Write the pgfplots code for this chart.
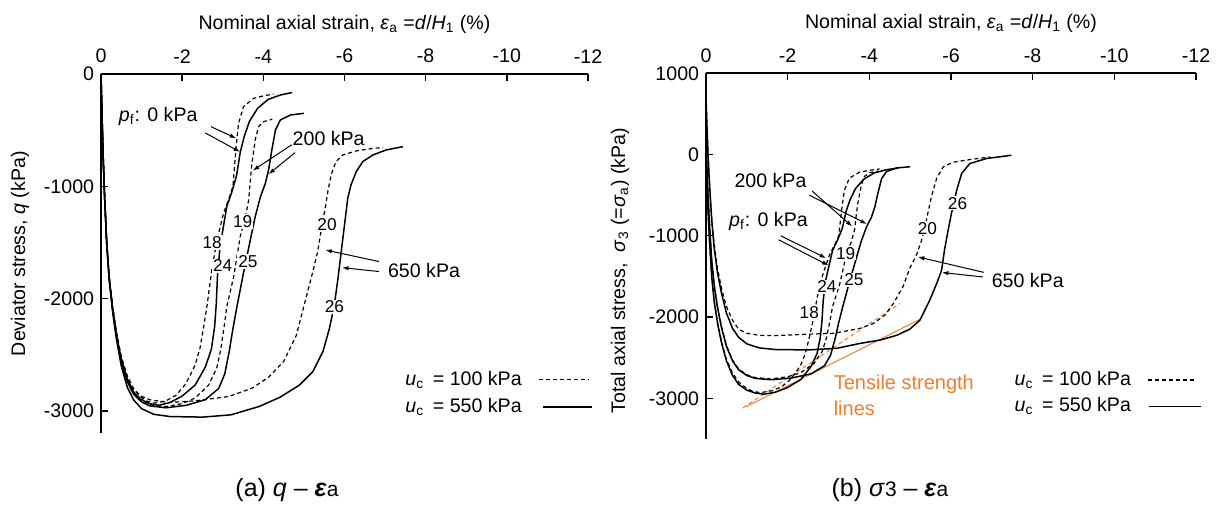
\documentclass[border=0pt]{standalone}
\usepackage{fontspec}
\setmainfont{Liberation Sans}
\usepackage{pgfplots}
\pgfplotsset{compat=1.18}
\usetikzlibrary{arrows.meta}
\definecolor{tsorange}{RGB}{237,125,49}

\tikzset{
  dsh/.style={dash pattern=on 2pt off 1.5pt, line width=0.6pt},
  clab/.style={fill=white, inner sep=0.5pt, font=\fontsize{8.6}{9}\selectfont},
  arr/.style={-{Latex[length=3.2pt,width=2.2pt]}, line width=0.5pt, black},
}
\pgfplotsset{
  myaxis/.style={
    scale only axis,
    x dir=reverse,
    xmin=-12, xmax=0,
    axis x line=top, axis y line=left,
    axis line style={-, line width=0.8pt},
    tick align=inside,
    major tick length=3.5pt,
    tick style={line width=0.7pt, black},
    xtick={0,-2,-4,-6,-8,-10,-12},
    /pgf/number format/assume math mode=true,
    /pgf/number format/1000 sep={},
    scaled ticks=false,
    clip=false,
    no markers,
    cycle list={{black,solid}},
    xlabel style={at={(axis description cs:0.5,1)}, anchor=center, yshift=25pt},
    x tick label style={yshift=2pt},
    every axis plot/.append style={black, line width=0.75pt, line join=round},
  },
}

\begin{document}
\fontsize{9.8}{11.5}\selectfont
\begin{tikzpicture}
\path (0,0) rectangle (610pt,253pt);

% ---------------- (a) ----------------
\begin{axis}[myaxis,
  at={(50.5pt,36.3pt)}, anchor=south west,
  width=243.5pt, height=179.7pt,
  ymin=-3200, ymax=0,
  ytick={0,-1000,-2000,-3000},
  xlabel={Nominal axial strain, \textit{ε}\textsubscript{a} =\textit{d}/\textit{H}\textsubscript{1} (\%)},
  ylabel={Deviator stress, \textit{q} (kPa)},
  ylabel style={at={(axis description cs:-0.166,0.5)}, anchor=center},
]
% 18
\addplot[black, dsh] coordinates {(0,0) (-0.02,-300) (-0.05,-700) (-0.09,-1100) (-0.14,-1500) (-0.2,-1800) (-0.28,-2060) (-0.38,-2300) (-0.5,-2520) (-0.65,-2690) (-0.8,-2800) (-1.0,-2880) (-1.15,-2915) (-1.33,-2930) (-1.6,-2910) (-1.85,-2860) (-2.07,-2768) (-2.2,-2680) (-2.32,-2590) (-2.44,-2440) (-2.53,-2250) (-2.61,-2071) (-2.73,-1744) (-2.86,-1477) (-3.02,-1240) (-3.14,-1121) (-3.25,-1003) (-3.29,-825) (-3.33,-647) (-3.39,-439) (-3.51,-291) (-3.76,-217) (-4.0,-195) (-4.25,-178)};
% 24
\addplot[black] coordinates {(0,0) (-0.02,-300) (-0.05,-700) (-0.09,-1100) (-0.14,-1500) (-0.2,-1810) (-0.28,-2070) (-0.38,-2320) (-0.5,-2540) (-0.65,-2720) (-0.8,-2830) (-1.0,-2900) (-1.2,-2935) (-1.42,-2950) (-1.7,-2925) (-1.99,-2870) (-2.32,-2770) (-2.57,-2610) (-2.72,-2450) (-2.8,-2250) (-2.84,-2050) (-2.87,-1800) (-2.93,-1550) (-3.02,-1350) (-3.1,-1180) (-3.22,-1055) (-3.34,-905) (-3.43,-700) (-3.53,-555) (-3.66,-420) (-3.86,-305) (-4.12,-226) (-4.42,-187) (-4.71,-165)};
% 19
\addplot[black, dsh] coordinates {(0,0) (-0.02,-300) (-0.05,-700) (-0.09,-1100) (-0.14,-1500) (-0.2,-1800) (-0.28,-2070) (-0.38,-2320) (-0.5,-2550) (-0.65,-2730) (-0.8,-2840) (-1.0,-2910) (-1.2,-2945) (-1.58,-2962) (-2.0,-2935) (-2.32,-2885) (-2.65,-2770) (-2.85,-2620) (-2.95,-2456) (-3.03,-2260) (-3.1,-2071) (-3.27,-1804) (-3.43,-1448) (-3.56,-1270) (-3.64,-1121) (-3.68,-943) (-3.72,-795) (-3.8,-587) (-3.88,-469) (-4.01,-424) (-4.22,-403)};
% 25
\addplot[black] coordinates {(0,0) (-0.02,-300) (-0.05,-700) (-0.09,-1100) (-0.14,-1500) (-0.2,-1810) (-0.28,-2080) (-0.38,-2330) (-0.5,-2560) (-0.65,-2740) (-0.8,-2850) (-1.0,-2920) (-1.2,-2955) (-1.6,-2972) (-2.1,-2950) (-2.57,-2900) (-2.9,-2800) (-3.05,-2670) (-3.16,-2470) (-3.25,-2270) (-3.35,-2071) (-3.51,-1774) (-3.68,-1477) (-3.8,-1270) (-3.93,-1092) (-4.05,-973) (-4.13,-854) (-4.21,-676) (-4.3,-498) (-4.42,-409) (-4.67,-365) (-5.0,-350)};
% 20
\addplot[black, dsh] coordinates {(0,0) (-0.02,-300) (-0.05,-700) (-0.09,-1100) (-0.14,-1500) (-0.2,-1800) (-0.28,-2060) (-0.38,-2300) (-0.5,-2520) (-0.65,-2700) (-0.8,-2810) (-1.0,-2870) (-1.2,-2900) (-1.66,-2925) (-2.32,-2910) (-3.14,-2872) (-3.72,-2798) (-4.13,-2700) (-4.5,-2560) (-4.81,-2330) (-5.05,-1997) (-5.22,-1759) (-5.34,-1581) (-5.42,-1403) (-5.51,-1225) (-5.59,-1047) (-5.67,-899) (-5.79,-780) (-5.96,-721) (-6.29,-685) (-6.7,-662) (-6.95,-656)};
% 26
\addplot[black] coordinates {(0,0) (-0.02,-300) (-0.05,-700) (-0.09,-1100) (-0.14,-1500) (-0.2,-1820) (-0.28,-2100) (-0.38,-2360) (-0.5,-2600) (-0.65,-2790) (-0.8,-2900) (-1.0,-2980) (-1.3,-3030) (-1.7,-3050) (-2.5,-3055) (-3.2,-3035) (-3.9,-2960) (-4.4,-2880) (-4.89,-2770) (-5.22,-2650) (-5.47,-2470) (-5.63,-2264) (-5.75,-2056) (-5.84,-1819) (-5.92,-1581) (-6.0,-1344) (-6.08,-1107) (-6.16,-988) (-6.29,-869) (-6.45,-780) (-6.7,-721) (-7.03,-676) (-7.44,-647)};

% annotations
\node at (axis cs:-1.41,-380) {\textit{p}\textsubscript{f}: 0 kPa};
\draw[arr] (axis cs:-2.71,-469) -- (axis cs:-3.33,-572);
\draw[arr] (axis cs:-2.57,-525) -- (axis cs:-3.43,-694);
\node at (axis cs:-5.61,-572) {200 kPa};
\draw[arr] (axis cs:-4.7,-630) -- (axis cs:-3.74,-860);
\draw[arr] (axis cs:-4.78,-700) -- (axis cs:-4.13,-892);
\node at (axis cs:-7.96,-1753) {650 kPa};
\draw[arr] (axis cs:-6.85,-1670) -- (axis cs:-5.53,-1567);
\draw[arr] (axis cs:-6.85,-1759) -- (axis cs:-5.94,-1724);
\node[clab] at (axis cs:-2.74,-1500) {18};
\node[clab] at (axis cs:-3.0,-1708) {24};
\node[clab] at (axis cs:-3.49,-1314) {19};
\node[clab] at (axis cs:-3.62,-1670) {25};
\node[clab] at (axis cs:-5.57,-1344) {20};
\node[clab] at (axis cs:-5.75,-2071) {26};
% legend
\node[anchor=west] at (axis cs:-7.33,-2723) {\textit{u}\textsubscript{c}\, = 100 kPa};
\addplot[black, dsh] coordinates {(-10.79,-2723) (-12.0,-2723)};
\node[anchor=west] at (axis cs:-7.33,-2964) {\textit{u}\textsubscript{c}\, = 550 kPa};
\addplot[black] coordinates {(-10.9,-2964) (-12.1,-2964)};
\end{axis}

% ---------------- (b) ----------------
\begin{axis}[myaxis,
  at={(353pt,33.55pt)}, anchor=south west,
  width=245pt, height=182.8pt,
  ymin=-3500, ymax=1000,
  ytick={1000,0,-1000,-2000,-3000},
  xlabel={Nominal axial strain, \textit{ε}\textsubscript{a} =\textit{d}/\textit{H}\textsubscript{1} (\%)},
  ylabel={Total axial stress,\; \textit{σ}\textsubscript{3} (=\textit{σ}\textsubscript{a}) (kPa)},
  ylabel style={at={(axis description cs:-0.1755,0.46)}, anchor=center},
]
% tensile strength lines
\addplot[tsorange, line width=0.5pt, dash pattern=on 2.2pt off 1.4pt] coordinates {(-0.9,-3120) (-4.74,-1835)};
\addplot[tsorange, line width=0.5pt] coordinates {(-0.98,-3105) (-5.27,-2020)};
% 18
\addplot[black, dsh] coordinates {(0,0) (-0.02,-300) (-0.05,-700) (-0.09,-1100) (-0.14,-1500) (-0.2,-1800) (-0.28,-2060) (-0.38,-2300) (-0.5,-2520) (-0.65,-2690) (-0.8,-2800) (-1.0,-2880) (-1.15,-2915) (-1.33,-2930) (-1.6,-2910) (-1.85,-2860) (-2.07,-2768) (-2.2,-2680) (-2.32,-2590) (-2.44,-2440) (-2.53,-2250) (-2.61,-2071) (-2.73,-1744) (-2.86,-1477) (-3.02,-1240) (-3.14,-1121) (-3.25,-1003) (-3.29,-825) (-3.33,-647) (-3.39,-439) (-3.51,-291) (-3.76,-217) (-4.0,-195) (-4.25,-178)};
% 24
\addplot[black] coordinates {(0,0) (-0.02,-300) (-0.05,-700) (-0.09,-1100) (-0.14,-1500) (-0.2,-1810) (-0.28,-2070) (-0.38,-2320) (-0.5,-2540) (-0.65,-2720) (-0.8,-2830) (-1.0,-2900) (-1.2,-2935) (-1.42,-2950) (-1.7,-2925) (-1.99,-2870) (-2.32,-2770) (-2.57,-2610) (-2.72,-2450) (-2.8,-2250) (-2.84,-2050) (-2.87,-1800) (-2.93,-1550) (-3.02,-1350) (-3.1,-1180) (-3.22,-1055) (-3.34,-905) (-3.43,-700) (-3.53,-555) (-3.66,-420) (-3.86,-305) (-4.12,-226) (-4.42,-187) (-4.71,-165)};
% 19
\addplot[black, dsh] coordinates {(0,200) (-0.02,-100) (-0.05,-500) (-0.09,-900) (-0.14,-1300) (-0.2,-1600) (-0.28,-1870) (-0.38,-2120) (-0.5,-2350) (-0.65,-2530) (-0.8,-2640) (-1.0,-2710) (-1.2,-2745) (-1.58,-2762) (-2.0,-2735) (-2.32,-2685) (-2.65,-2570) (-2.85,-2420) (-2.95,-2256) (-3.03,-2060) (-3.1,-1871) (-3.27,-1604) (-3.43,-1248) (-3.56,-1070) (-3.64,-921) (-3.68,-743) (-3.72,-595) (-3.8,-387) (-3.88,-269) (-4.01,-224) (-4.22,-203)};
% 25
\addplot[black] coordinates {(0,200) (-0.02,-100) (-0.05,-500) (-0.09,-900) (-0.14,-1300) (-0.2,-1610) (-0.28,-1880) (-0.38,-2130) (-0.5,-2360) (-0.65,-2540) (-0.8,-2650) (-1.0,-2720) (-1.2,-2755) (-1.6,-2772) (-2.1,-2750) (-2.57,-2700) (-2.9,-2600) (-3.05,-2470) (-3.16,-2270) (-3.25,-2070) (-3.35,-1871) (-3.51,-1574) (-3.68,-1277) (-3.8,-1070) (-3.93,-892) (-4.05,-773) (-4.13,-654) (-4.21,-476) (-4.3,-298) (-4.42,-209) (-4.67,-165) (-5.0,-150)};
% 20
\addplot[black, dsh] coordinates {(0,700) (-0.02,400) (-0.05,0) (-0.09,-400) (-0.14,-800) (-0.2,-1100) (-0.28,-1400) (-0.38,-1650) (-0.5,-1870) (-0.65,-2040) (-0.8,-2150) (-1.0,-2200) (-1.3,-2225) (-1.66,-2230) (-2.32,-2215) (-3.14,-2200) (-3.77,-2140) (-4.1,-2079) (-4.38,-1977) (-4.59,-1833) (-4.83,-1620) (-4.99,-1400) (-5.16,-1230) (-5.28,-1054) (-5.4,-800) (-5.52,-520) (-5.65,-290) (-5.81,-152) (-6.05,-95) (-6.46,-62) (-6.95,-30)};
% 26
\addplot[black] coordinates {(0,700) (-0.02,400) (-0.05,0) (-0.09,-400) (-0.14,-800) (-0.2,-1150) (-0.28,-1450) (-0.38,-1710) (-0.5,-1950) (-0.65,-2140) (-0.8,-2250) (-1.0,-2330) (-1.3,-2380) (-1.7,-2400) (-2.5,-2405) (-3.2,-2385) (-3.77,-2325) (-4.26,-2284) (-4.67,-2225) (-4.99,-2150) (-5.24,-2038) (-5.48,-1792) (-5.65,-1587) (-5.77,-1423) (-5.84,-1177) (-5.93,-931) (-6.01,-726) (-6.14,-439) (-6.26,-234) (-6.46,-111) (-6.87,-49) (-7.48,-9)};

% annotations
\node at (axis cs:-1.58,-320) {200 kPa};
\draw[arr] (axis cs:-2.6,-450) -- (axis cs:-3.58,-885);
\draw[arr] (axis cs:-2.53,-500) -- (axis cs:-3.94,-855);
\node at (axis cs:-1.53,-820) {\textit{p}\textsubscript{f}: 0 kPa};
\draw[arr] (axis cs:-1.83,-1000) -- (axis cs:-2.94,-1275);
\draw[arr] (axis cs:-1.78,-1050) -- (axis cs:-3.0,-1365);
\node at (axis cs:-7.88,-1555) {650 kPa};
\draw[arr] (axis cs:-6.8,-1450) -- (axis cs:-5.19,-1260);
\draw[arr] (axis cs:-6.78,-1507) -- (axis cs:-5.78,-1452);
\node[clab] at (axis cs:-3.42,-1214) {19};
\node[clab] at (axis cs:-3.62,-1541) {25};
\node[clab] at (axis cs:-2.96,-1627) {24};
\node[clab] at (axis cs:-2.53,-1944) {18};
\node[clab] at (axis cs:-5.42,-908) {20};
\node[clab] at (axis cs:-6.16,-601) {26};
\node[anchor=west, align=left, text=tsorange, font=\fontsize{10}{12.9}\selectfont] at (axis cs:-2.96,-2965) {Tensile strength\\lines};
% legend
\node[anchor=west] at (axis cs:-7.39,-2776) {\textit{u}\textsubscript{c}\, = 100 kPa};
\addplot[black, dsh] coordinates {(-10.82,-2776) (-12.02,-2776)};
\node[anchor=west] at (axis cs:-7.39,-3100) {\textit{u}\textsubscript{c}\, = 550 kPa};
\addplot[black] coordinates {(-10.85,-3100) (-12.12,-3100)};
\end{axis}

% captions
\node[font=\fontsize{12.5}{14}\selectfont] at (143.5pt,8pt) {(a) \textit{q} – \textbf{\textit{ε}}{\fontsize{10.5}{12}\selectfont a}};
\node[font=\fontsize{12.5}{14}\selectfont] at (445pt,8pt) {(b) \textit{σ}{\fontsize{10.5}{12}\selectfont 3} – \textbf{\textit{ε}}{\fontsize{10.5}{12}\selectfont a}};
\end{tikzpicture}
\end{document}
